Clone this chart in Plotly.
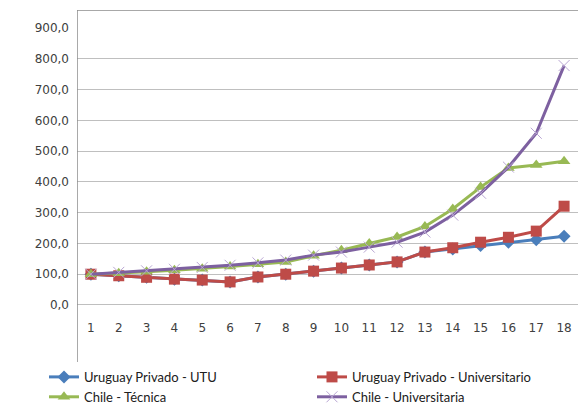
import plotly.graph_objects as go

categories = [str(i) for i in range(1, 19)]
uy_utu = [100, 95, 90, 84, 81, 75, 91, 100, 110, 120, 130, 140, 172, 182, 193, 204, 212, 223]
uy_univ = [100, 95, 90, 84, 81, 75, 91, 100, 110, 120, 130, 140, 172, 186, 204, 220, 240, 321]
cl_tec = [100, 103, 108, 113, 118, 125, 132, 140, 160, 178, 200, 221, 255, 312, 383, 445, 455, 467]
cl_univ = [100, 106, 111, 116, 122, 129, 137, 146, 162, 172, 188, 204, 237, 292, 363, 448, 558, 778]
y_ticks = [0, 100, 200, 300, 400, 500, 600, 700, 800, 900]

fig = go.Figure()
fig.add_trace(go.Scatter(x=categories, y=uy_utu, name="Uruguay Privado - UTU", mode="lines+markers",
                         line=dict(color="#4A7EBB", width=3),
                         marker=dict(symbol="diamond", size=10, color="#4A7EBB")))
fig.add_trace(go.Scatter(x=categories, y=uy_univ, name="Uruguay Privado - Universitario", mode="lines+markers",
                         line=dict(color="#BE4B48", width=3),
                         marker=dict(symbol="square", size=11, color="#BE4B48")))
fig.add_trace(go.Scatter(x=categories, y=cl_tec, name="Chile - Técnica", mode="lines+markers",
                         line=dict(color="#98B954", width=3),
                         marker=dict(symbol="triangle-up", size=11, color="#98B954")))
fig.add_trace(go.Scatter(x=categories, y=cl_univ, name="Chile - Universitaria", mode="lines+markers",
                         line=dict(color="#7D60A0", width=3),
                         marker=dict(symbol="x-thin-open", size=11, color="#B9A6D3",
                                     line=dict(width=1, color="#B9A6D3"))))

# chart frame (left and top edges) drawn on an auxiliary full-paper axis pair
fig.add_trace(go.Scatter(x=[0, 0, 1], y=[0, 1, 1], xaxis="x2", yaxis="y2", mode="lines",
                         line=dict(color="#8C8C8C", width=1.5), hoverinfo="skip",
                         showlegend=False, cliponaxis=False))

fig.update_layout(
    width=585, height=405,
    margin=dict(l=7, r=0, t=10, b=0, autoexpand=False),
    paper_bgcolor="white", plot_bgcolor="rgba(0,0,0,0)",
    separators=", ",
    font=dict(family="DejaVu Sans", size=12, color="#404040"),
    showlegend=True,
    legend=dict(orientation="h", x=0.064, y=0.109, xanchor="left", yanchor="top",
                entrywidth=223, entrywidthmode="pixels",
                font=dict(family="Lato", size=13, color="#202020"),
                tracegroupgap=0),
    xaxis=dict(domain=[0.1211, 0.9879], anchor="y"),
    yaxis=dict(domain=[0.2532, 0.9544], anchor="x"),
    xaxis2=dict(domain=[0, 1], range=[0, 1], anchor="y2", overlaying="x", visible=False, fixedrange=True),
    yaxis2=dict(domain=[0, 1], range=[0, 1], anchor="x2", visible=False, fixedrange=True),
)
fig.update_xaxes(selector=dict(anchor="y"), type="category", range=[-0.5, 17.5], showgrid=False,
                 showline=False, zeroline=False, ticks="", ticklabelstandoff=14,
                 tickfont=dict(family="DejaVu Sans", size=12, color="#404040"))
fig.update_yaxes(selector=dict(anchor="x"), range=[0, 900], tickvals=y_ticks, tickformat=".1f",
                 showgrid=True, gridcolor="#BFBFBF", gridwidth=1.2, zeroline=True, zerolinecolor="#BFBFBF",
                 zerolinewidth=1.2, showline=False, ticks="", ticklabelstandoff=7,
                 tickfont=dict(family="DejaVu Sans", size=12, color="#404040"))

fig.write_html("out.html", config={"displayModeBar": False},
               post_script="document.body.style.margin='0';document.body.style.overflow='hidden';")
